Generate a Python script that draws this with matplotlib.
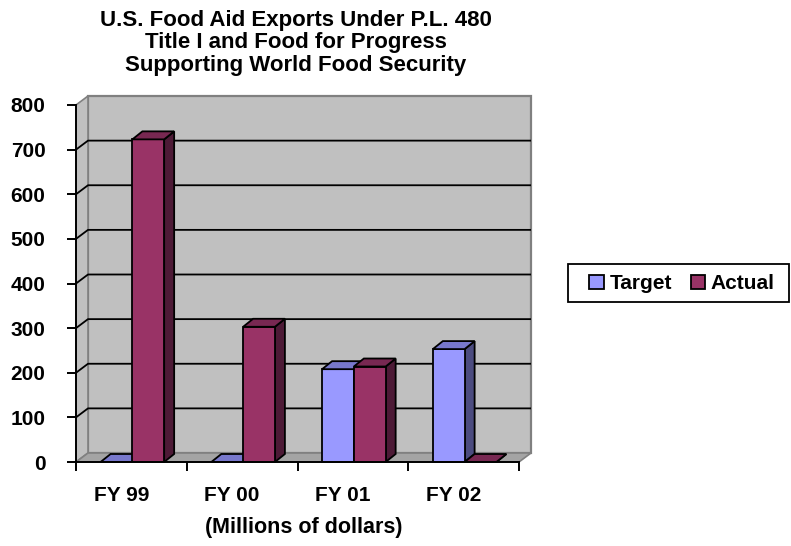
import matplotlib
matplotlib.use("Agg")
import matplotlib.pyplot as plt
from matplotlib.patches import Polygon, Patch, Rectangle

# ---- data -------------------------------------------------------------
categories = ["FY 99", "FY 00", "FY 01", "FY 02"]
target = [0, 0, 208, 253]
actual = [723, 303, 214, 0]
series_names = ["Target", "Actual"]
y_ticks = [0, 100, 200, 300, 400, 500, 600, 700, 800]
title_lines = [
    "U.S. Food Aid Exports Under P.L. 480",
    "Title I and Food for Progress",
    "Supporting World Food Security",
]
x_title = "(Millions of dollars)"

# ---- style ------------------------------------------------------------
plt.rcParams["font.family"] = ["Liberation Sans", "DejaVu Sans"]
plt.rcParams["font.weight"] = "bold"

FRONT = {"Target": "#9999FF", "Actual": "#993366"}
TOP = {"Target": "#7878CC", "Actual": "#782852"}
SIDE = {"Target": "#4C4C80", "Actual": "#4D1A36"}
WALL = "#C0C0C0"
FLOOR = "#A4A4A4"
EDGE = "#808080"
FS = 15

W, H = 791, 546
fig = plt.figure(figsize=(W / 100, H / 100), dpi=100)

# plot area in pixels (front plane)
L, R, B, T = 76, 519, 462, 105
ax = fig.add_axes([L / W, 1 - B / H, (R - L) / W, (B - T) / H])
ax.set_xlim(0, len(categories))
ax.set_ylim(0, 800)

ux = (R - L) / len(categories)   # pixels per category
uy = (B - T) / 800               # pixels per unit


def off(px, py):
    return px / ux, py / uy


wdx, wdy = off(12, 9)     # depth of walls / floor
bdx, bdy = off(10, 8)     # depth of bars
ymax = 800
n = len(categories)


def poly(pts, fc, ec, lw, z):
    ax.add_patch(Polygon(pts, closed=True, facecolor=fc, edgecolor=ec,
                         linewidth=lw, zorder=z, clip_on=False,
                         joinstyle="miter"))


# walls and floor
poly([(wdx, wdy), (n + wdx, wdy), (n + wdx, ymax + wdy), (wdx, ymax + wdy)],
     WALL, EDGE, 1.6, 1)
poly([(0, 0), (wdx, wdy), (wdx, ymax + wdy), (0, ymax)], WALL, EDGE, 1.2, 1)
poly([(0, 0), (n, 0), (n + wdx, wdy), (wdx, wdy)], FLOOR, EDGE, 1.2, 1)

# gridlines on side and back walls
for v in y_ticks[1:-1]:
    ax.plot([0, wdx, n + wdx], [v, v + wdy, v + wdy], color="black",
            linewidth=1.3, zorder=2, clip_on=False, solid_capstyle="butt")

# bars
bar_w = 0.287
first_left = 0.222
for i in range(n):
    for j, (name, vals) in enumerate(zip(series_names, [target, actual])):
        v = vals[i]
        x0 = i + first_left + j * bar_w
        x1 = x0 + bar_w
        z = 3 + i * 2 + j
        # side face
        poly([(x1, 0), (x1 + bdx, bdy), (x1 + bdx, v + bdy), (x1, v)],
             SIDE[name], "black", 1.3, z)
        # front face
        poly([(x0, 0), (x1, 0), (x1, v), (x0, v)], FRONT[name], "black", 1.3, z)
        # top face
        poly([(x0, v), (x1, v), (x1 + bdx, v + bdy), (x0 + bdx, v + bdy)],
             TOP[name], "black", 1.3, z)

# axes lines and ticks
for s in ["top", "right"]:
    ax.spines[s].set_visible(False)
for s in ["left", "bottom"]:
    ax.spines[s].set_color("black")
    ax.spines[s].set_linewidth(1.4)
    ax.spines[s].set_zorder(20)
ax.set_facecolor("none")

ax.set_yticks(y_ticks)
ax.set_yticklabels([str(t) for t in y_ticks])
ax.tick_params(axis="y", direction="out", length=6.5, width=1.4,
               pad=15.5, labelsize=FS, colors="black")

ax.set_xticks(range(n + 1))
ax.set_xticklabels([])
ax.set_xticks([i + 0.41 for i in range(n)], minor=True)
ax.set_xticklabels(categories, minor=True)
ax.tick_params(axis="x", which="major", direction="out", length=6.5,
               width=1.4)
ax.tick_params(axis="x", which="minor", length=0, pad=17.5, labelsize=FS)

fig.text(304 / W, 1 - 527 / H, x_title, ha="center", va="center",
         fontsize=FS + 0.5, fontweight="bold")

fig.text(296 / W, 1 - 43 / H, "\n".join(title_lines), ha="center",
         va="center", fontsize=16, fontweight="bold", linespacing=1.12)

# legend: frame box plus entries
fig.add_artist(Rectangle((568 / W, 1 - 302 / H), 221 / W, 38 / H,
                         transform=fig.transFigure, facecolor="white",
                         edgecolor="black", linewidth=1.3, zorder=4))
handles = [Patch(facecolor=FRONT[s], edgecolor="black", linewidth=1.3)
           for s in series_names]
leg = fig.legend(handles, series_names, loc="center left",
                 bbox_to_anchor=(580 / W, 1 - 283.5 / H), ncol=2,
                 frameon=False, fontsize=FS, handlelength=0.68,
                 handleheight=0.68, handletextpad=0.28, columnspacing=0.9,
                 borderpad=0.45, borderaxespad=0)
leg.set_zorder(5)

fig.savefig("out.png", dpi=100)
